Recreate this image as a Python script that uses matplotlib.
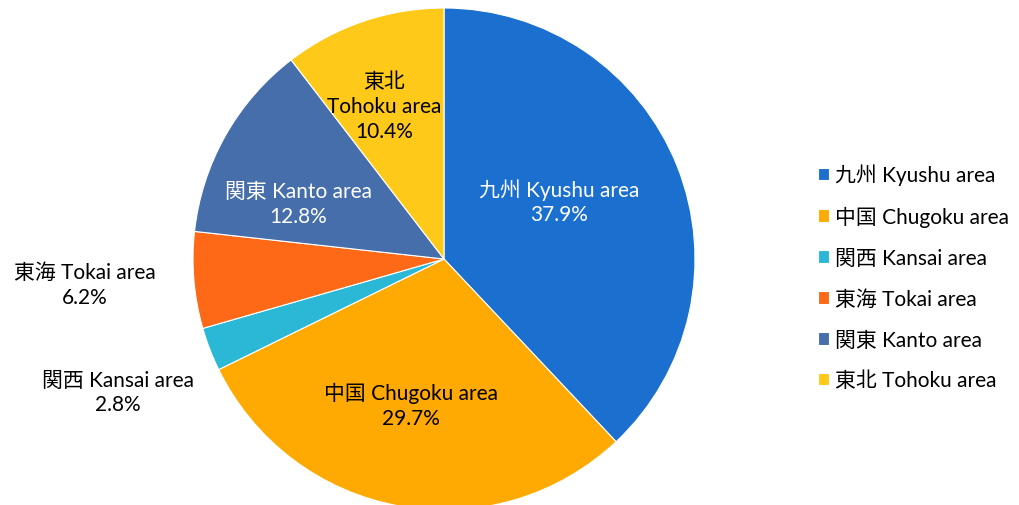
import matplotlib
matplotlib.use("Agg")
import matplotlib.pyplot as plt
import numpy as np

# data
regions = ["九州 Kyushu area", "中国 Chugoku area", "関西 Kansai area",
           "東海 Tokai area", "関東 Kanto area", "東北 Tohoku area"]
shares = [37.9, 29.7, 2.8, 6.2, 12.8, 10.4]
slice_labels = ["九州 Kyushu area", "中国 Chugoku area", "関西 Kansai area",
                "東海 Tokai area", "関東 Kanto area", "東北\nTohoku area"]
colors = ["#1b6fcf", "#feaa02", "#2bb8d6", "#fe6918", "#466eab", "#fec918"]
text_colors = ["white", "black", "black", "black", "white", "black"]
# label centres in pie-radius units
label_xy = [(0.46, 0.23), (-0.13, -0.58), (-1.30, -0.53),
            (-1.43, -0.10), (-0.58, 0.22), (-0.24, 0.61)]

plt.rcParams['font.family'] = ['Lato', 'Noto Sans CJK JP', 'DejaVu Sans']

fig = plt.figure(figsize=(10.2, 5.06), dpi=100)
r_px = 251
cx, cy = 444, 260
ax = fig.add_axes([(cx - r_px) / 1020, (506 - cy - r_px) / 506,
                   2 * r_px / 1020, 2 * r_px / 506])
ax.set_aspect('equal')
ax.axis('off')

wedges, _ = ax.pie(shares, colors=colors, startangle=90, counterclock=False,
                   radius=1, wedgeprops=dict(edgecolor='white', linewidth=0.8))
ax.set_xlim(-1, 1)
ax.set_ylim(-1, 1)

for lab, val, (x, y), tc in zip(slice_labels, shares, label_xy, text_colors):
    ax.text(x, y, f"{lab}\n{val:.1f}%", ha='center', va='center',
            fontsize=15, color=tc, linespacing=1.3, clip_on=False)

leg = fig.legend(wedges, regions, loc='center left',
                 bbox_to_anchor=(799 / 1020, 1 - 278 / 506), frameon=False,
                 fontsize=15, handlelength=0.55, handleheight=0.55,
                 handletextpad=0.3, labelspacing=1.0)

fig.savefig("out.png", dpi=100, facecolor='white')
